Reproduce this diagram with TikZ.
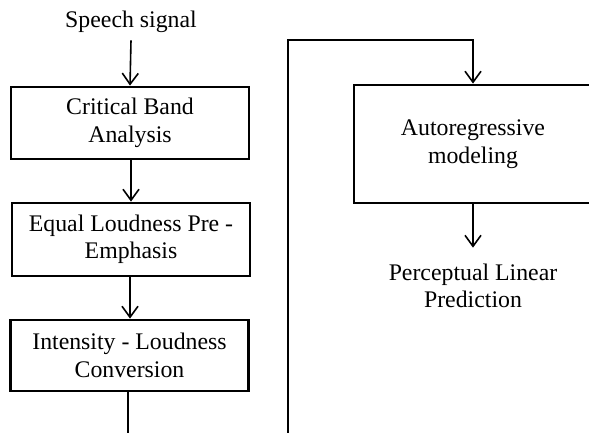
\documentclass[tikz,border=0pt]{standalone}
\usepackage{fontspec}
\setmainfont{Liberation Serif}
\usetikzlibrary{arrows.meta}
\begin{document}
\begin{tikzpicture}[x=1pt,y=-1pt,
  every node/.style={font=\fontsize{23.8}{27.5}\selectfont, align=center},
  stage/.style={draw, line width=2.8pt, minimum width=238pt, inner sep=0pt},
  flow/.style={line width=1.6pt, -{Straight Barb[length=11pt,width=16pt,line width=1.6pt]}},
  wire/.style={line width=1.6pt}]
  \useasboundingbox (0,0) rectangle (589,433);
  \clip (0,0) rectangle (589,433);
  \fill[white] (0,0) rectangle (589,433);

  % left column: PLP front-end stages
  \node[anchor=base, inner xsep=0pt, inner ysep=7pt] (sig) at (131,28) {Speech signal};
  \node[stage, minimum height=72pt] (cba) at (130,123) {Critical Band\\Analysis};
  \node[stage, minimum height=73pt] (elp) at (131,239.5) {Equal Loudness Pre -\\Emphasis};
  \node[stage, minimum height=71pt] (ilc) at (129.5,355.5) {Intensity - Loudness\\Conversion};

  % right column: all-pole modelling and output
  \node[stage, minimum height=118pt] (ar) at (473,144) {Autoregressive\\modeling};
  \node[inner xsep=0pt, inner ysep=16pt] (plp) at (473,286) {Perceptual Linear\\Prediction};

  % routing points for the wrap-around connector
  \coordinate (down) at (128,445);
  \coordinate (up) at (288,445);
  \coordinate (top) at (473,40);

  \draw[flow] (sig.south) -- (cba.north);
  \draw[flow] (cba.south -| 131,0) -- (elp.north -| 131,0);
  \draw[flow] (elp.south -| 130,0) -- (ilc.north -| 130,0);
  \draw[wire] (ilc.south -| down) -- (down);
  \draw[flow] (up) |- (top) -- (ar.north);
  \draw[flow] (ar.south) -- (plp.north);
\end{tikzpicture}
\end{document}
